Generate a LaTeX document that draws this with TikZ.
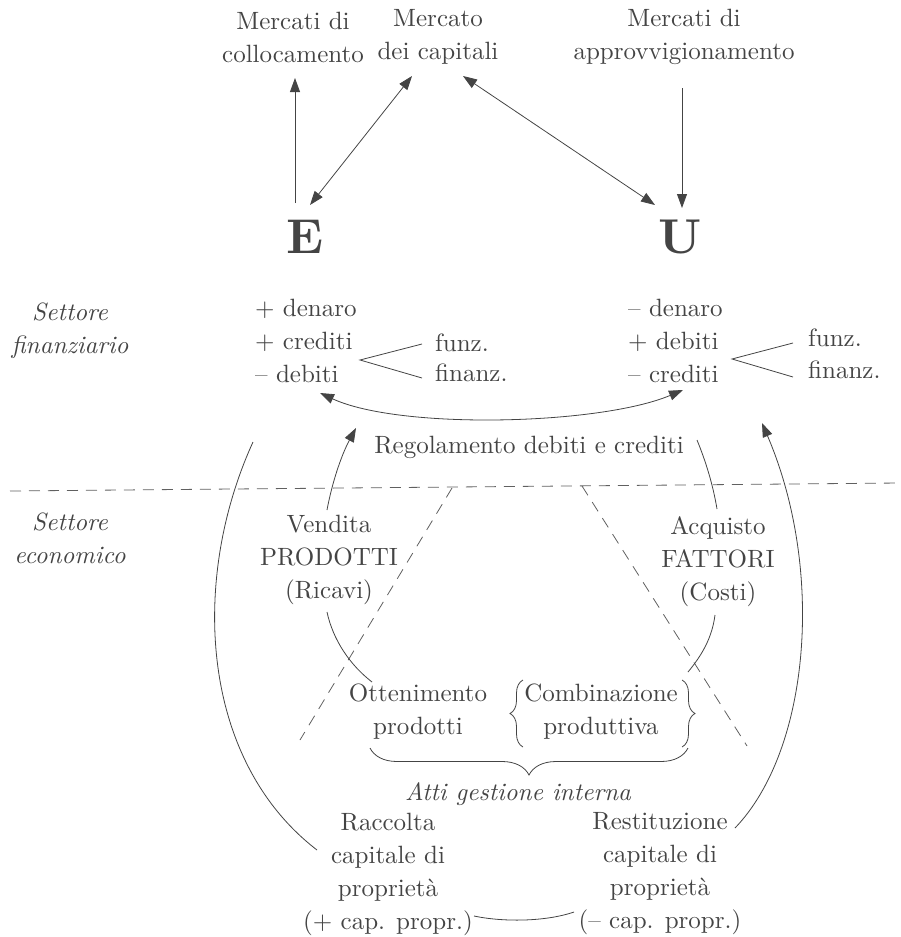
\documentclass[tikz,border=0pt]{standalone}
\usepackage{fontspec}
\setmainfont{lmroman10-regular.otf}[BoldFont=lmroman10-bold.otf, ItalicFont=lmroman10-italic.otf]
\usetikzlibrary{arrows.meta,decorations.pathreplacing}
\definecolor{ink}{HTML}{444444}
\begin{document}
\begin{tikzpicture}[x=1pt,y=-1pt,
  txt/.style={text=ink, inner sep=0pt, font=\fontsize{25}{33}\selectfont},
  lbl/.style={txt, align=center},
  lft/.style={txt, align=left, anchor=west},
  sect/.style={txt, align=center, font=\fontsize{25}{33}\selectfont\itshape},
  big/.style={text=ink, inner sep=0pt, font=\fontsize{49}{49}\selectfont\bfseries},
  conn/.style={draw=ink, line width=0.8pt},
  arr/.style={conn, -{Triangle[length=14pt,width=10pt]}},
  darr/.style={conn, {Triangle[length=14pt,width=10pt]}-{Triangle[length=14pt,width=10pt]}},
  divide/.style={draw=ink!85, line width=0.8pt, dash pattern=on 11pt off 8pt},
  brc/.style={draw=ink, line width=0.8pt, decorate, decoration={brace, amplitude=#1, aspect=0.5}},
]
\useasboundingbox (0,0) rectangle (901,937);

% markets
\node[lbl] (coll) at (293,37) {Mercati di\\collocamento};
\node[lbl] (capm) at (438,37) {Mercato\\dei capitali};
\node[lbl] (appr) at (684,37) {Mercati di\\approvvigionamento};

% the two economic units
\node[big] (E) at (305,237) {E};
\node[big] (U) at (680,237) {U};

\coordinate (collA) at (295,203);
\coordinate (collB) at (295,78);
\coordinate (eCapA) at (310,205);
\coordinate (eCapB) at (412,76);
\coordinate (uCapA) at (463,76);
\coordinate (uCapB) at (655,205);
\coordinate (apprA) at (682,88);
\coordinate (apprB) at (682,208);
\draw[arr] (collA) -- (collB);
\draw[darr] (eCapA) -- (eCapB);
\draw[darr] (uCapA) -- (uCapB);
\draw[arr] (apprA) -- (apprB);

% financial sector
\node[sect] (setfin) at (70,331) {Settore\\finanziario};
\node[lft] (efin) at (255,341) {+ denaro\\+ crediti\\– debiti};
\node[lft] (efunz) at (435,343) {funz.};
\node[lft] (efinz) at (435,373) {finanz.};
\coordinate (eLtip) at (360,360);
\coordinate (eLa) at (422,344);
\coordinate (eLb) at (422,378);
\draw[conn] (eLa) -- (eLtip) -- (eLb);

\node[lft] (ufin) at (628,341) {– denaro\\+ debiti\\– crediti};
\node[lft] (ufunz) at (808,338) {funz.};
\node[lft] (ufinz) at (808,370) {finanz.};
\coordinate (uLtip) at (732,359);
\coordinate (uLa) at (793,343);
\coordinate (uLb) at (793,377);
\draw[conn] (uLa) -- (uLtip) -- (uLb);

% settlement of debts and credits
\coordinate (regA) at (320,393);
\coordinate (regB) at (683,390);
\draw[darr] (regA) .. controls (400,430) and (600,425) .. (regB);
\node[lbl] (reg) at (529,447) {Regolamento debiti e crediti};

% boundary between the sectors
\coordinate (divL) at (10,491);
\coordinate (divR) at (900,483);
\draw[divide] (divL) -- (divR);
\coordinate (dgLa) at (452,488);
\coordinate (dgLb) at (300,740);
\coordinate (dgRa) at (582,486);
\coordinate (dgRb) at (747,746);
\draw[divide] (dgLa) -- (dgLb);
\draw[divide] (dgRa) -- (dgRb);

% economic sector
\node[sect] (seteco) at (70,538) {Settore\\economico};
\node[lbl] (vend) at (329,560) {Vendita\\PRODOTTI\\(Ricavi)};
\node[lbl] (acq) at (718,562) {Acquisto\\FATTORI\\(Costi)};
\node[lbl] (ott) at (418,712) {Ottenimento\\prodotti};
\node[lbl] (comb) at (601,712) {Combinazione\\produttiva};
\node[sect] (atti) at (518,794) {Atti gestione interna};
\node[lbl] (racc) at (388,874) {Raccolta\\capitale di\\proprietà\\(+ cap. propr.)};
\node[lbl] (rest) at (660,874) {Restituzione\\capitale di\\proprietà\\(– cap. propr.)};

% braces
\coordinate (bLa) at (523,747);
\coordinate (bLb) at (523,680);
\coordinate (bRa) at (682,680);
\coordinate (bRb) at (682,747);
\draw[brc=13pt] (bLa) -- (bLb);
\draw[brc=13pt] (bRa) -- (bRb);
\coordinate (ubA) at (688,748);
\coordinate (ubB) at (370,748);
\draw[brc=27pt] (ubA) -- (ubB);

% flows
\coordinate (vUpA) at (327,510);
\coordinate (vUpB) at (356,428);
\draw[arr] (vUpA) .. controls (333,478) and (343,452) .. (vUpB);
\coordinate (vLoA) at (327,612);
\coordinate (vLoB) at (372,682);
\draw[conn] (vLoA) .. controls (333,640) and (350,665) .. (vLoB);

\coordinate (aUpA) at (697,440);
\coordinate (aUpB) at (717,509);
\draw[conn] (aUpA) .. controls (706,462) and (713,485) .. (aUpB);
\coordinate (aLoA) at (715,615);
\coordinate (aLoB) at (688,672);
\draw[conn] (aLoA) .. controls (712,638) and (702,655) .. (aLoB);

\coordinate (oLa) at (253,442);
\coordinate (oLb) at (317,850);
\draw[conn] (oLa) .. controls (190,580) and (200,760) .. (oLb);
\coordinate (oRa) at (735,828);
\coordinate (oRb) at (762,423);
\draw[arr] (oRa) .. controls (810,750) and (825,570) .. (oRb);

% link between the two equity operations
\coordinate (capA) at (474,916);
\coordinate (capB) at (574,912);
\draw[conn] (capA) .. controls (502,922) and (545,922) .. (capB);
\end{tikzpicture}
\end{document}
